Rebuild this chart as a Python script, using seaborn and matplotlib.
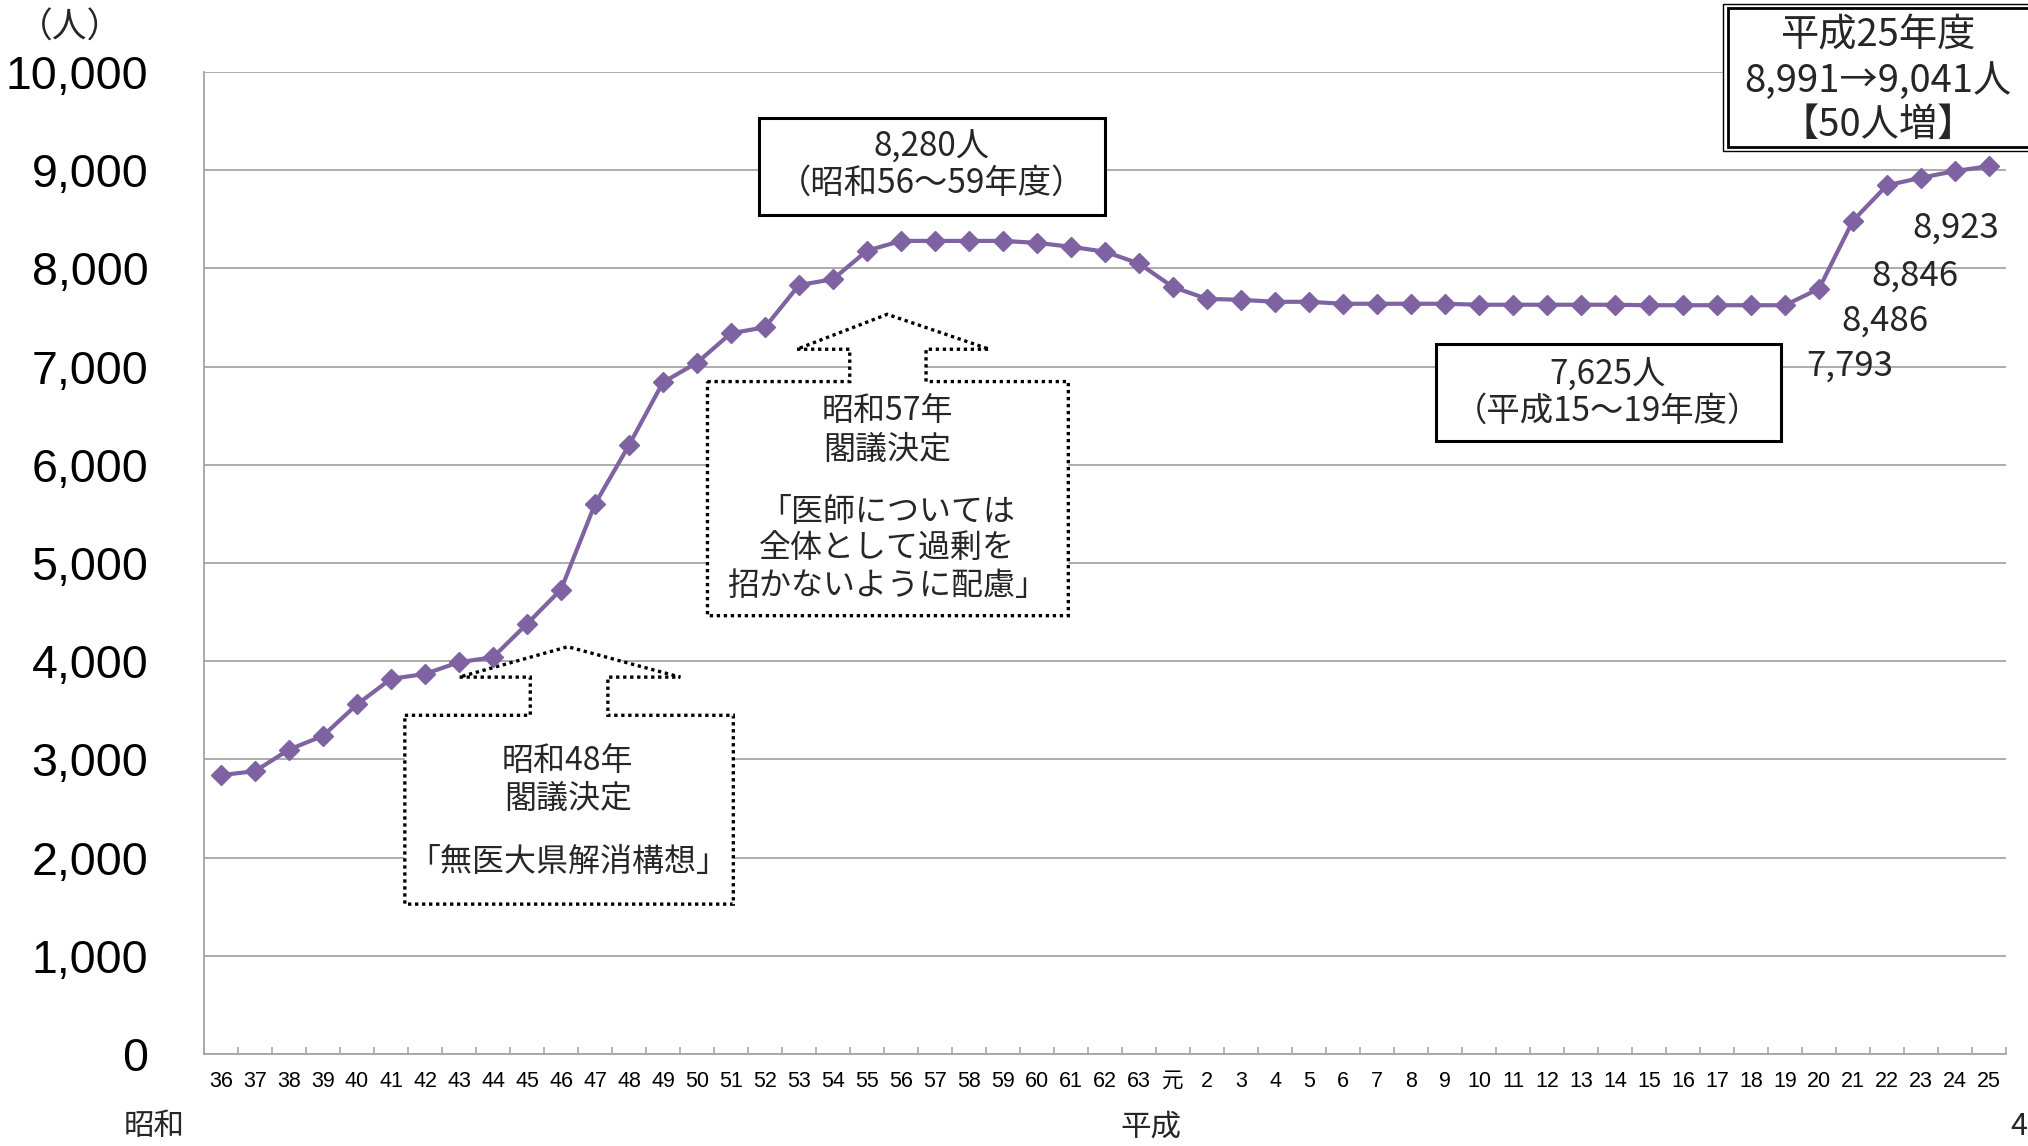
import matplotlib
matplotlib.use("Agg")
import matplotlib.pyplot as plt
import seaborn as sns
import pandas as pd
import numpy as np
from matplotlib.patches import Polygon, Rectangle

# ---------------- data ----------------
showa_labels = ['36', '37', '38', '39', '40', '41', '42', '43', '44', '45', '46', '47', '48', '49',
                '50', '51', '52', '53', '54', '55', '56', '57', '58', '59', '60', '61', '62', '63']
heisei_labels = ['元', '2', '3', '4', '5', '6', '7', '8', '9', '10', '11', '12', '13', '14', '15',
                 '16', '17', '18', '19', '20', '21', '22', '23', '24', '25']
showa_values = [2840, 2880, 3100, 3240, 3560, 3820, 3870, 3990, 4040, 4380, 4730, 5600, 6200, 6840,
                7040, 7340, 7400, 7830, 7890, 8180, 8280, 8280, 8280, 8280, 8260, 8220, 8170, 8050]
heisei_values = [7810, 7690, 7680, 7660, 7660, 7640, 7640, 7640, 7640, 7630, 7630, 7630, 7630, 7630,
                 7625, 7625, 7625, 7625, 7625, 7793, 8486, 8846, 8923, 8991, 9041]
y_ticks = [0, 1000, 2000, 3000, 4000, 5000, 6000, 7000, 8000, 9000, 10000]
labelled_years = ['20', '21', '22', '23']          # Heisei years with value labels
label_offsets = [(22, -56), (23, -72), (20, -65), (25, -36)]   # points

box_peak = ['8,280人', '（昭和56〜59年度）']
box_flat = ['7,625人', '（平成15〜19年度）']
box_h25 = ['平成25年度', '8,991→9,041人', '【50人増】']
call_s57 = ['昭和57年', '閣議決定', '「医師については', '全体として過剰を', '招かないように配慮」']
call_s48 = ['昭和48年', '閣議決定', '「無医大県解消構想」']

# ---------------- style ----------------
PURPLE = '#7E62A1'
GRID = '#A6A6A6'
CJK = ['Noto Sans CJK JP', 'DejaVu Sans']

sns.set_theme(style='white')
plt.rcParams['font.family'] = ['Liberation Sans', 'Noto Sans CJK JP', 'DejaVu Sans']

df = pd.DataFrame({'label': showa_labels + heisei_labels,
                   'value': showa_values + heisei_values})
df['pos'] = np.arange(len(df))

W, H = 1568.0, 886.0          # layout grid of the reference
TXT_DY = 3.0                  # Noto CJK centre correction


def F(x, y):
    return (x / W, 1 - y / H)


fig = plt.figure(figsize=(20.28, 11.46), dpi=100)
ax = fig.add_axes([204 / 2028, 92 / 1146, 1802 / 2028, 982 / 1146])

sns.lineplot(data=df, x='pos', y='value', ax=ax, color=PURPLE, lw=3.0,
             marker='D', markersize=10.5, markeredgecolor=PURPLE, markeredgewidth=1,
             zorder=5)

ax.set_xlim(-0.5, len(df) - 0.5)
ax.set_ylim(0, 10000)
ax.set_yticks(y_ticks)
ax.set_yticklabels([f'{v:,}' for v in y_ticks], fontsize=33.5)
ax.set_xticks(df['pos'])
ax.set_xticklabels(df['label'], fontsize=15.5)
ax.set_xticks(np.arange(-0.5, len(df)), minor=True)
ax.tick_params(axis='x', which='major', bottom=True, length=0, pad=12, colors='black')
ax.tick_params(axis='x', which='minor', bottom=True, length=5, direction='in',
               color=GRID, width=1.2)
ax.tick_params(axis='y', left=False, length=0, pad=40, colors='black')
ax.yaxis.grid(True, color=GRID, lw=1.3)
ax.xaxis.grid(False)
ax.set_axisbelow(True)
for s in ['top', 'right']:
    ax.spines[s].set_visible(False)
for s in ['left', 'bottom']:
    ax.spines[s].set_color(GRID)
    ax.spines[s].set_linewidth(1.3)
ax.set_xlabel('')
ax.set_ylabel('')

# value labels for recent years
for yr, off in zip(labelled_years, label_offsets):
    row = df[(df['label'] == yr) & (df.index >= len(showa_labels))].iloc[0]
    ax.annotate(f"{row['value']:,}", xy=(row['pos'], row['value']), xytext=off,
                textcoords='offset points', ha='center', va='center',
                fontsize=25, family=CJK, zorder=6)


# ---------------- annotations ----------------
def rect(x0, y0, x1, y1, lw):
    ax.add_patch(Rectangle(F(x0, y1), (x1 - x0) / W, (y1 - y0) / H,
                           transform=fig.transFigure, clip_on=False,
                           facecolor='white', edgecolor='black', lw=lw, zorder=3))


def lines(txts, x, ys, size):
    for t, y in zip(txts, ys):
        ax.text(*F(x, y + TXT_DY), t, transform=fig.transFigure, ha='center', va='center',
                fontsize=size, family=CJK, zorder=7, clip_on=False)


def callout(pts):
    ax.add_patch(Polygon([F(x, y) for x, y in pts], closed=True,
                         transform=fig.transFigure, clip_on=False,
                         facecolor='white', edgecolor='black', lw=2.4,
                         linestyle=(0, (1, 1.1)), zorder=2.5))


rect(587, 91, 854, 166, 2.2)
lines(box_peak, 720, [111, 139], 24)

rect(1110, 266, 1377, 341, 2.2)
lines(box_flat, 1243, [287, 315], 24)

rect(1332, 3, 1590, 117, 1.0)
rect(1336, 6.5, 1590, 113.5, 2.0)
lines(box_h25, 1452, [25, 60, 94], 27.5)

callout([(547, 295), (657, 295), (657, 270), (616, 270), (686, 243), (765, 270),
         (716, 270), (716, 295), (826, 295), (826, 476), (547, 476)])
lines(call_s57, 686, [315, 345, 393, 421, 450], 23)

callout([(313, 553), (410, 553), (410, 523.5), (355, 523.5), (439, 500), (526, 523.5),
         (470, 523.5), (470, 553), (567, 553), (567, 699), (313, 699)])
lines(call_s48, 439, [585, 615, 663.5], 23)

# era and unit labels
fig.text(*F(54, 22), '（人）', ha='center', va='center', fontsize=25, family=CJK)
fig.text(*F(119, 883), '昭和', ha='center', va='bottom', fontsize=22, family=CJK)
fig.text(*F(890, 883), '平成', ha='center', va='bottom', fontsize=22, family=CJK)
fig.text(0.9995, 1 - 883 / H, '4', ha='right', va='bottom', fontsize=22, family=CJK)

fig.savefig('out.png', dpi=100, facecolor='white')
